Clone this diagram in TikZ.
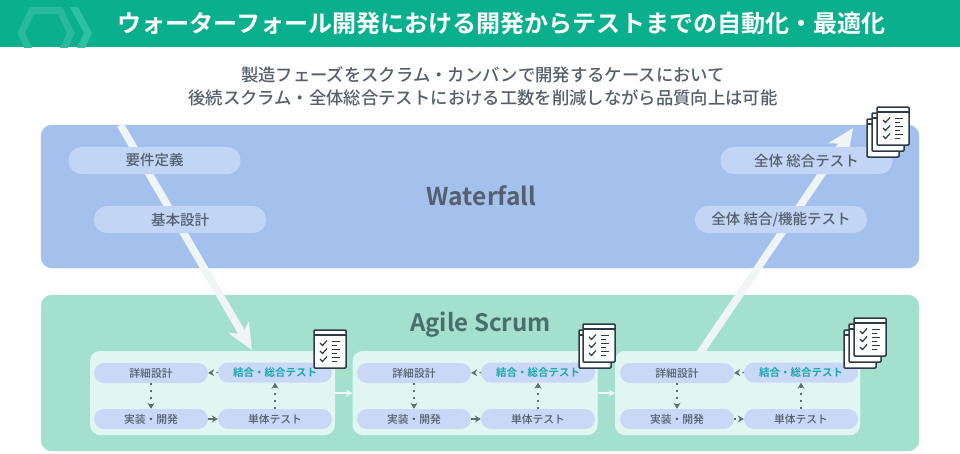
\documentclass[tikz,border=0pt]{standalone}
\usepackage{fontspec}
\setmainfont{Noto Sans CJK JP Medium}[BoldFont={Noto Sans CJK JP Bold}]
\usetikzlibrary{arrows.meta}
\definecolor{headgreen}{HTML}{0AB08E}
\definecolor{hexgreen}{HTML}{2AB99D}
\definecolor{chevgreen}{HTML}{30C0A5}
\definecolor{wfblue}{HTML}{A4C1EE}
\definecolor{scrumgreen}{HTML}{A3E0CD}
\definecolor{sprintbg}{HTML}{E2F6F1}
\definecolor{pillblue}{HTML}{C9D8F6}
\definecolor{wfpill}{HTML}{C3D5F5}
\definecolor{flowwhite}{HTML}{EFF4F5}
\definecolor{txtgrey}{HTML}{55606C}
\definecolor{scrumtxt}{HTML}{4A6E6C}
\definecolor{tealtxt}{HTML}{18A8AC}
\definecolor{iconline}{HTML}{2C3B47}
\definecolor{dotgrey}{HTML}{5E6E6C}
\tikzset{
	panel/.style={rounded corners=11pt,inner sep=0pt},
	wfpillbox/.style={fill=wfpill,rounded corners=13pt,minimum width=172pt,minimum height=27pt,inner sep=0pt,text=txtgrey,font=\fontsize{14.5}{16}\selectfont},
	pillbox/.style={fill=pillblue,rounded corners=10pt,minimum width=114pt,minimum height=20pt,inner sep=0pt,text=txtgrey,font=\fontsize{10.8}{12}\selectfont},
	sprintbox/.style={fill=sprintbg,rounded corners=10pt,minimum width=245pt,minimum height=84pt,inner sep=0pt},
	bigflow/.style={draw=flowwhite,line width=7.5pt,-{Stealth[length=26pt,width=23pt,inset=7pt]}},
	linkarrow/.style={draw=flowwhite,line width=1.5pt,-{Stealth[length=6pt,width=7pt,inset=1pt]}},
	dotarrow/.style={draw=dotgrey,line width=1.3pt,dash pattern=on 1.5pt off 5.5pt,-{Stealth[length=6pt,width=7pt,inset=2pt]}},
	fullarrow/.style={draw=dotgrey,line width=1.3pt,-{Stealth[length=6pt,width=7pt,inset=2pt]}},
	sheet/.pic={
		\draw[iconline,line width=1.5pt,fill=white,rounded corners=1pt] (0,0) rectangle (32,38);
		\draw[iconline,line width=1.5pt] (0,5) -- (32,5);
		\foreach \r in {13,21,29}{
			\draw[iconline,line width=1.2pt] (6,\r) -- (8.5,\r+2.5) -- (13,\r-2.5);
			\draw[iconline,line width=.8pt] (18,\r-2) -- (26,\r-2);
			\draw[iconline,line width=.8pt] (18,\r+2) -- (23,\r+2);
		}
	},
}
\begin{document}
\begin{tikzpicture}[x=1pt,y=-1pt]
	\useasboundingbox (0,0) rectangle (960,453);
	\fill[headgreen] (0,0) rectangle (960,47);
	\begin{scope}
		\clip (0,0) rectangle (960,47);
		\draw[hexgreen,line width=7pt] (21,33) -- (32,10.5) -- (60,10.5) -- (71,33) -- (58,60) -- (34,60) -- cycle;
		\fill[chevgreen] (70,7) -- (78,7) -- (92,33) -- (85,48) -- (77,48) -- (84,33) -- cycle;
	\end{scope}
	\node (title) at (501.5,23.5) {\fontsize{24.05}{28}\selectfont\bfseries\color{white}ウォーターフォール開発における開発からテストまでの自動化・最適化};
	\node[align=center,text=txtgrey,font=\fontsize{17.35}{23}\selectfont] (lead) at (483,86) {製造フェーズをスクラム・カンバンで開発するケースにおいて\\後続スクラム・全体総合テストにおける工数を削減しながら品質向上は可能};

	% panels
	\filldraw[wfblue,panel] (41,125) rectangle (919,268);
	\filldraw[scrumgreen,panel] (41,295) rectangle (919,451);
	\node[text=txtgrey,font=\fontsize{24.5}{28}\selectfont\bfseries] (wfname) at (481.5,196) {Waterfall};
	\node[text=scrumtxt,font=\fontsize{24}{28}\selectfont\bfseries] (scrumname) at (480.5,324.5) {Agile Scrum};

	% sprint boxes
	\foreach \k/\x in {a/0,b/262.5,c/525}{
		\node[sprintbox] (box\k) at (212.5+\x,393) {};
	}
	\coordinate (downstart) at (120.5,125);
	\coordinate (downend) at (252,350);
	\coordinate (upstart) at (700,353);
	\coordinate (upend) at (853,128);
	\draw[bigflow] (downstart) -- (downend);
	\draw[bigflow] (upstart) -- (upend);
	\node[sprintbox] at (boxc) {};

	\node[wfpillbox] (req) at (154.5,160.5) {要件定義};
	\node[wfpillbox] (basic) at (180,219.5) {基本設計};
	\node[wfpillbox] (systest) at (806.5,160.5) {全体 総合テスト};
	\node[wfpillbox] (funtest) at (781,219.5) {全体 結合/機能テスト};

	\foreach \k/\x/\s in {a/0/fullarrow,b/263/fullarrow,c/526/dotarrow}{
		\node[pillbox] (det\k) at (151+\x,373) {詳細設計};
		\node[pillbox,text=tealtxt,font=\fontsize{10.5}{12}\selectfont\bfseries] (int\k) at (275+\x,372.5) {結合・総合テスト};
		\node[pillbox] (imp\k) at (151+\x,419) {実装・開発};
		\node[pillbox] (uni\k) at (275+\x,419) {単体テスト};
		\draw[dotarrow] (int\k.west) -- (det\k.east);
		\draw[dotarrow] (det\k.south) -- (imp\k.north);
		\draw[\s] (imp\k.east) -- (uni\k.west);
		\draw[dotarrow] (uni\k.north) -- (int\k.south);
	}
	\draw[linkarrow] (boxa.east) -- (boxb.west);
	\draw[linkarrow] (boxb.east) -- (boxc.west);

	% check sheets
	\pic at (314,330) {sheet};
	\pic at (579,330) {sheet};
	\pic at (583,324) {sheet};
	\pic at (844,330) {sheet};
	\pic at (849,324) {sheet};
	\pic at (854,318) {sheet};
	\pic at (867,119) {sheet};
	\pic at (872,113) {sheet};
	\pic at (877,107) {sheet};
\end{tikzpicture}
\end{document}
